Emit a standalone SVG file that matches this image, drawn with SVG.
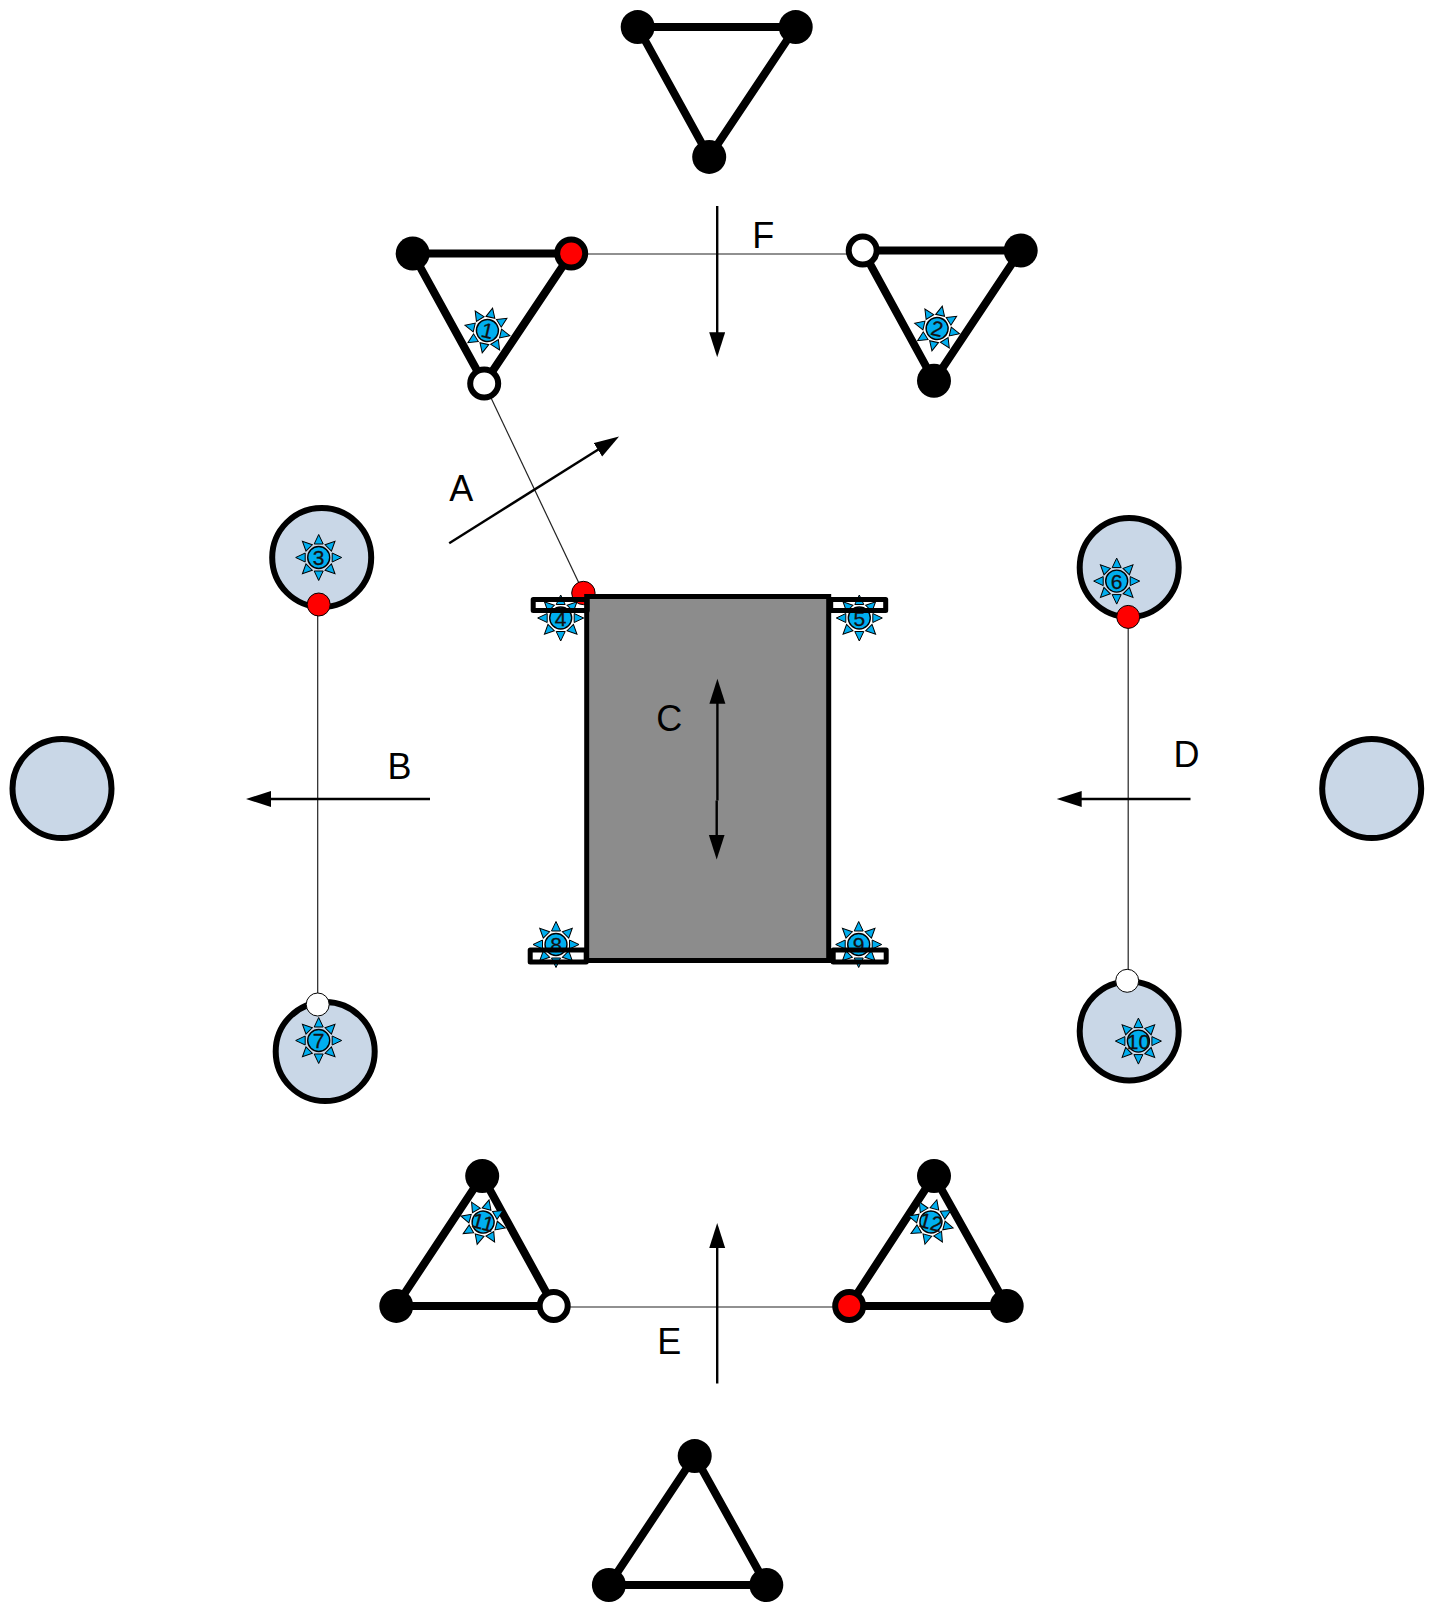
<svg xmlns="http://www.w3.org/2000/svg" xmlns:xlink="http://www.w3.org/1999/xlink" width="1434" height="1603" viewBox="0 0 1434 1603">
<style>
.tri{fill:none;stroke:#000;stroke-width:8}
.b{fill:#000}
.o{fill:#fff;stroke:#000;stroke-width:6}
.r{fill:#f00;stroke:#000;stroke-width:6}
.big{fill:#c9d7e7;stroke:#000;stroke-width:6}
.rs{fill:#f00;stroke:#000;stroke-width:1}
.ws{fill:#fff;stroke:#000;stroke-width:1}
.thin{fill:none;stroke:#222;stroke-width:1.2}
.arr{fill:none;stroke:#000;stroke-width:2.4;marker-end:url(#head)}
.lab{font:36px "Liberation Sans",Arial,sans-serif;fill:#000;text-anchor:middle}
.num{font:21px "Liberation Sans",Arial,sans-serif;fill:#111;stroke:#111;stroke-width:.3;text-anchor:middle}
.ray{fill:#00aeef;stroke:#000;stroke-width:1}
.hub{fill:#00aeef;stroke:#000;stroke-width:1.4}
.box{fill:none;stroke:#000;stroke-width:5;stroke-linejoin:round}
</style>
<defs>
<marker id="head" markerUnits="userSpaceOnUse" markerWidth="26" markerHeight="18" refX="15" refY="8" orient="auto"><path d="M0 0L25 8L0 16Z" fill="#000"/></marker>
<g id="rays">
<path id="ray" class="ray" d="M-4.500 -13.500L0 -23L4.500 -13.500Z"/>
<use xlink:href="#ray" href="#ray" transform="rotate(45)"/>
<use xlink:href="#ray" href="#ray" transform="rotate(90)"/>
<use xlink:href="#ray" href="#ray" transform="rotate(135)"/>
<use xlink:href="#ray" href="#ray" transform="rotate(180)"/>
<use xlink:href="#ray" href="#ray" transform="rotate(225)"/>
<use xlink:href="#ray" href="#ray" transform="rotate(270)"/>
<use xlink:href="#ray" href="#ray" transform="rotate(315)"/>
<circle class="hub" r="11"/>
</g>
</defs>
<g id="diagram" transform="translate(0.700 0.500)">
<g id="connectors">
<path class="thin" d="M570.500 253.500H862"/>
<path class="thin" d="M483.500 383L582.700 592"/>
<path class="thin" d="M317 604V1004"/>
<path class="thin" d="M1127.500 616V980"/>
<path class="thin" d="M553 1306.500H848.500"/>
<path class="arr" d="M716.500 205.500V346.700"/>
<path class="arr" d="M716.500 1383V1232.600"/>
<path class="arr" d="M448.500 542.700L609.900 441.300"/>
<path class="arr" d="M429.300 798.500H255.300"/>
<path class="arr" d="M1189.800 798.500H1066"/>
</g>

<g id="top-triangle"><path class="tri" d="M637 26.600H795L708.500 156.400Z"/><circle class="b" cx="637" cy="26.600" r="17"/><circle class="b" cx="795" cy="26.600" r="17"/><circle class="b" cx="708.500" cy="156.400" r="17"/></g>

<g id="triangle-1"><path class="tri" d="M412 253H570.500L483.500 383Z"/><circle class="b" cx="412" cy="253" r="17"/><circle class="r" cx="570.500" cy="253" r="14"/><circle class="o" cx="483.500" cy="383" r="14"/>
<g transform="translate(486.700 330) rotate(13)"><use xlink:href="#rays" href="#rays"/><text class="num" y="7.500">1</text></g></g>

<g id="triangle-2"><path class="tri" d="M862 250H934L1020 250L933.300 380.300Z"/><circle class="o" cx="862" cy="250" r="14"/><circle class="b" cx="1020" cy="250" r="17"/><circle class="b" cx="933.300" cy="380.300" r="17"/>
<g transform="translate(936.400 328) rotate(13)"><use xlink:href="#rays" href="#rays"/><text class="num" y="7.500">2</text></g></g>

<g id="circle-3"><circle class="big" cx="321" cy="557" r="49.500"/><g transform="translate(318 557)"><use xlink:href="#rays" href="#rays"/><text class="num" y="7.500">3</text></g><circle class="rs" cx="318" cy="604" r="11.500"/></g>
<g id="circle-7"><circle class="big" cx="324.500" cy="1051" r="49.500"/><g transform="translate(318 1040)"><use xlink:href="#rays" href="#rays"/><text class="num" y="7.500">7</text></g><circle class="ws" cx="317" cy="1004" r="11.500"/></g>
<g id="circle-6"><circle class="big" cx="1128.500" cy="567" r="49.500"/><g transform="translate(1116 580.600)"><use xlink:href="#rays" href="#rays"/><text class="num" y="7.500">6</text></g><circle class="rs" cx="1127.500" cy="616.400" r="11.500"/></g>
<g id="circle-10"><circle class="big" cx="1128.500" cy="1030.400" r="49.500"/><g transform="translate(1137.700 1040.600)"><use xlink:href="#rays" href="#rays"/><text class="num" y="7.500">10</text></g><circle class="ws" cx="1126.500" cy="980.300" r="11.500"/></g>
<g id="circle-left"><circle class="big" cx="61.300" cy="788" r="49.500"/></g>
<g id="circle-right"><circle class="big" cx="1371" cy="788" r="49.500"/></g>

<g id="body">
<circle class="rs" cx="582.700" cy="592.500" r="11.700"/>
<rect x="586" y="596" width="242" height="364" fill="#8c8c8c" stroke="#000" stroke-width="5"/>
<path class="arr" d="M716.700 800V688.300"/>
<path class="arr" d="M716 800V849"/>
</g>
<g id="badge-4"><g transform="translate(560 617.500)"><use xlink:href="#rays" href="#rays"/><text class="num" y="7.500">4</text></g><rect class="box" x="532.500" y="599" width="54" height="11"/></g>
<g id="badge-5"><g transform="translate(858.600 617.500)"><use xlink:href="#rays" href="#rays"/><text class="num" y="7.500">5</text></g><rect class="box" x="830" y="599" width="55" height="11"/></g>
<g id="badge-8"><g transform="translate(555.300 944)"><use xlink:href="#rays" href="#rays"/><text class="num" y="7.500">8</text></g><rect class="box" x="529.500" y="949.500" width="56" height="12"/></g>
<g id="badge-9"><g transform="translate(858 944)"><use xlink:href="#rays" href="#rays"/><text class="num" y="7.500">9</text></g><rect class="box" x="832.500" y="949.500" width="53" height="12"/></g>

<g id="triangle-11"><path class="tri" d="M481.500 1175.500L395.600 1305.400H553Z"/><circle class="b" cx="481.500" cy="1175.500" r="17"/><circle class="b" cx="395.600" cy="1305.400" r="17"/><circle class="o" cx="553" cy="1305.400" r="14"/>
<g transform="translate(482.400 1221.600) rotate(15)"><use xlink:href="#rays" href="#rays"/><text class="num" y="7.500">11</text></g></g>
<g id="triangle-12"><path class="tri" d="M933.300 1175.500L848.500 1305.400H1006Z"/><circle class="b" cx="933.300" cy="1175.500" r="17"/><circle class="r" cx="848.500" cy="1305.400" r="14"/><circle class="b" cx="1006" cy="1305.400" r="17"/>
<g transform="translate(930.200 1221.500) rotate(15)"><use xlink:href="#rays" href="#rays"/><text class="num" y="7.500">12</text></g></g>
<g id="bottom-triangle"><path class="tri" d="M694 1455.600L608.200 1584.500H765.600Z"/><circle class="b" cx="694" cy="1455.600" r="17"/><circle class="b" cx="608.200" cy="1584.500" r="17"/><circle class="b" cx="765.600" cy="1584.500" r="17"/></g>

<g id="labels">
<text class="lab" x="460.500" y="500.500">A</text>
<text class="lab" x="398.700" y="778.500">B</text>
<text class="lab" x="668.500" y="730.500">C</text>
<text class="lab" x="1185.800" y="766.500">D</text>
<text class="lab" x="668.500" y="1353.500">E</text>
<text class="lab" x="762.600" y="247">F</text>
</g>
</g>
</svg>
